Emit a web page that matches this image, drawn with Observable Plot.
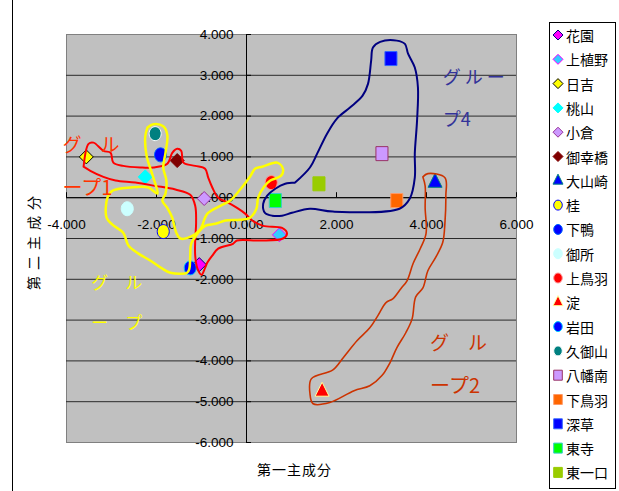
<!DOCTYPE html>
<html><head><meta charset="utf-8">
<script src="https://cdn.jsdelivr.net/npm/d3@7"></script>
<script src="https://cdn.jsdelivr.net/npm/@observablehq/plot@0.6"></script>
<style>
body{margin:0;background:#fff;}
#wrap{position:relative;width:619px;height:491px;overflow:hidden;background:#fff;}
#border{position:absolute;left:12px;top:0;width:0;height:491px;border-left:1px solid #000;}
#chart{position:absolute;left:0;top:0;}
#legend{position:absolute;left:549px;top:22px;}
.title{position:absolute;font-family:"Noto Sans CJK JP";font-size:14px;color:#000;white-space:nowrap;line-height:1;}
</style></head><body>
<div id="wrap">
  <div id="border"></div>
  <div id="chart"></div>
  <div class="title" id="xtitle" style="left:257px;top:462px;letter-spacing:1px;">第一主成分</div>
  <div class="title" id="ytitle" style="left:33px;top:240px;transform:translate(-50%,-50%) rotate(-90deg);letter-spacing:6px;">第二主成分</div>
  <svg id="legend" width="67" height="467"></svg>
</div>
<script>
// ---- data ----
const stations = ["花園","上植野","日吉","桃山","小倉","御幸橋","大山崎","桂","下鴨","御所","上鳥羽","淀","岩田","久御山","八幡南","下鳥羽","深草","東寺","東一口"];
const pc1 = [-1.05, 0.73, -3.56, -2.25, -0.94, -1.54, 4.19, -1.85, -1.91, -2.65, 0.55, 1.68, -1.25, -2.03, 3.01, 3.34, 3.21, 0.64, 1.61];
const pc2 = [-1.64, -0.91, 1.00, 0.51, -0.02, 0.91, 0.37, -0.83, 1.05, -0.27, 0.37, -4.75, -1.72, 1.57, 1.08, -0.07, 3.41, -0.07, 0.34];
const shapes = ["diamond","diamond","diamond","diamond","diamond","diamond","triangle","circle","circle","circle","circle","triangle","circle","circle","square","square","square","square","square"];
const fills = ["#FF00FF","#33CCFF","#FFFF00","#00FFFF","#CC99FF","#800000","#0000FF","#FFFF00","#0000FF","#CCFFFF","#FF0000","#FF0000","#0000FF","#008080","#CC99FF","#FF6600","#0000FF","#00FF00","#99CC00"];
const strokes = ["#000080","#FF00FF","#000000","#00FFFF","#993399","#800000","#008080","#0000FF","#0066FF","#CCFFFF","#FF9999","#FFFF99","#00CCFF","#FFFFFF","#993366","#FF9966","#3366FF","#33CCCC","#99CC00"];

const xTicks = [-4, -2, 0, 2, 4, 6];
const xTickLabels = ["-4.000","-2.000","0.000","2.000","4.000","6.000"];
const yTicks = [4, 3, 2, 1, 0, -1, -2, -3, -4, -5, -6];
const yTickLabels = ["4.000","3.000","2.000","1.000","0.000","-1.000","-2.000","-3.000","-4.000","-5.000","-6.000"];

// hand-drawn group outlines (PC1, PC2)
const group1Outline = [[-3.62,0.76],[-3.51,1.32],[-3.40,1.35],[-3.18,1.15],[-3.02,1.10],[-2.96,0.86],[-2.74,0.78],[-2.36,0.74],[-2.07,0.74],[-1.76,0.83],[-1.65,1.10],[-1.54,1.20],[-1.45,1.15],[-1.40,0.86],[-1.14,0.78],[-0.92,0.71],[-0.85,0.49],[-0.76,0.25],[-0.63,0.00],[-0.41,-0.12],[-0.21,-0.25],[-0.03,-0.39],[0.13,-0.56],[0.37,-0.69],[0.79,-0.74],[0.90,-0.88],[0.81,-1.00],[0.30,-1.05],[-0.21,-1.05],[-0.30,-1.13],[-0.63,-1.25],[-0.76,-1.42],[-0.87,-1.59],[-0.92,-1.72],[-1.00,-1.89],[-1.09,-1.74],[-1.14,-1.42],[-1.14,-1.05],[-1.12,-0.61],[-1.14,-0.20],[-1.25,0.07],[-1.58,0.20],[-2.03,0.29],[-2.47,0.37],[-2.91,0.42],[-3.18,0.51],[-3.47,0.66],[-3.62,0.76]];
const group2Outline = [[3.92,0.51],[4.03,0.59],[4.41,0.49],[4.43,0.05],[4.41,-0.61],[4.36,-1.10],[4.21,-1.45],[4.03,-1.79],[3.92,-2.21],[3.76,-2.43],[3.68,-2.97],[3.54,-3.31],[3.34,-3.68],[3.19,-4.04],[3.01,-4.36],[2.74,-4.61],[2.39,-4.73],[1.85,-5.02],[1.48,-5.05],[1.41,-4.80],[1.44,-4.44],[1.92,-4.22],[2.15,-3.92],[2.46,-3.50],[2.74,-3.19],[2.92,-2.89],[3.10,-2.57],[3.25,-2.48],[3.43,-2.23],[3.57,-2.03],[3.70,-1.62],[3.86,-1.25],[3.99,-0.88],[3.97,-0.25],[3.97,0.29],[3.92,0.51]];
const group3Outline = [[-2.20,1.72],[-2.07,1.80],[-1.85,1.75],[-1.76,1.54],[-1.80,1.10],[-1.85,0.74],[-1.78,0.42],[-1.80,0.10],[-1.87,-0.07],[-1.76,-0.25],[-1.65,-0.49],[-1.56,-0.86],[-1.47,-1.00],[-1.25,-0.96],[-1.03,-0.78],[-0.87,-0.39],[-0.58,-0.20],[-0.36,-0.07],[-0.14,0.20],[0.08,0.52],[0.19,0.71],[0.35,0.76],[0.68,0.86],[0.81,0.71],[0.77,0.54],[0.53,0.42],[0.39,0.27],[0.26,0.00],[0.22,-0.27],[0.08,-0.49],[-0.14,-0.54],[-0.47,-0.56],[-0.69,-0.64],[-0.92,-0.69],[-1.09,-0.88],[-1.23,-1.13],[-1.25,-1.42],[-1.27,-1.74],[-1.32,-1.84],[-1.69,-1.84],[-1.87,-1.74],[-2.14,-1.54],[-2.40,-1.37],[-2.62,-1.18],[-2.74,-0.86],[-2.98,-0.66],[-3.11,-0.49],[-3.09,0.00],[-2.98,0.17],[-2.58,0.25],[-2.18,0.25],[-1.98,0.10],[-2.07,0.49],[-2.22,1.03],[-2.25,1.50],[-2.20,1.72]];
const group4Outline = [[1.08,0.37],[1.41,0.74],[1.57,1.08],[1.79,1.57],[2.01,1.94],[2.30,2.21],[2.58,2.50],[2.70,2.79],[2.77,3.36],[2.81,3.68],[2.97,3.82],[3.34,3.85],[3.52,3.77],[3.59,3.53],[3.74,3.19],[3.81,2.70],[3.79,1.89],[3.74,1.08],[3.74,0.49],[3.63,-0.02],[3.40,-0.27],[1.92,-0.34],[1.41,-0.27],[1.01,-0.37],[0.79,-0.44],[0.57,-0.44],[0.41,-0.37],[0.37,-0.15],[0.46,0.05],[0.64,0.22],[0.86,0.34],[1.08,0.37]];
const outlineColors = ["#FF0000","#CC3300","#FFFF00","#000080"];
const outlineWidths = [2, 1.6, 2.5, 2];

const groupLabelText = ["グ　ル","ープ1","グ　ル","ー　プ","グ ル ー","プ4","グ　ル","ープ2"];
const groupLabelX = [-4.09,-4.09,-3.45,-3.45,4.36,4.36,4.08,4.08];
const groupLabelY = [1.27,0.22,-2.11,-3.09,2.94,1.89,-3.58,-4.63];
const groupLabelColor = ["#FF3300","#FF3300","#FFFF00","#FFFF00","#333399","#333399","#CC3300","#CC3300"];
const groupLabelSize = [19,20,17,17,18,18,19,20];

// ---- symbols ----
const sym = {
  diamond: {draw(c, size){const s=Math.sqrt(size/Math.PI); c.moveTo(0,-s); c.lineTo(s,0); c.lineTo(0,s); c.lineTo(-s,0); c.closePath();}},
  square: {draw(c, size){const s=Math.sqrt(size/Math.PI); c.rect(-s*0.86,-s,s*1.72,s*2);}},
  circle: {draw(c, size){const s=Math.sqrt(size/Math.PI); const rx=s*0.86, ry=s, k=0.5523;
    c.moveTo(rx,0); c.bezierCurveTo(rx,ry*k,rx*k,ry,0,ry); c.bezierCurveTo(-rx*k,ry,-rx,ry*k,-rx,0);
    c.bezierCurveTo(-rx,-ry*k,-rx*k,-ry,0,-ry); c.bezierCurveTo(rx*k,-ry,rx,-ry*k,rx,0); c.closePath();}},
  triangle: {draw(c, size){const s=Math.sqrt(size/Math.PI); c.moveTo(0,-s*1.33); c.lineTo(s,s*0.67); c.lineTo(-s,s*0.67); c.closePath();}}
};

const idx = stations.map((_, i) => i);
const outlines = [group1Outline, group2Outline, group3Outline, group4Outline];
const num = "Liberation Sans, Arial, sans-serif";
const jp = "Noto Sans CJK JP, sans-serif";

const marks = [
  Plot.frame({fill: "#C0C0C0", stroke: "#808080"}),
  Plot.ruleY(yTicks.filter(v => v !== 4 && v !== -6), {y: d => d, stroke: "#2a2a2a", strokeWidth: 1}),
  Plot.ruleX([0], {x: d => d, stroke: "#000", strokeWidth: 1}),
  Plot.ruleY([0], {y: d => d, stroke: "#000", strokeWidth: 1}),
  Plot.ruleX(xTicks, {x: d => d, y1: 0, y2: 0, insetBottom: 5, stroke: "#000"}),
  Plot.ruleY(yTicks, {y: d => d, x1: 0, x2: 0, insetRight: -5, stroke: "#000"}),
  Plot.text(xTicks, {x: d => d, y: 0, dy: 27, text: (d, i) => xTickLabels[i], fontSize: 13.5, fontFamily: num, fill: "#000"}),
  Plot.text(yTicks, {x: 0, y: d => d, dx: -13, textAnchor: "end", text: (d, i) => yTickLabels[i], fontSize: 13.5, fontFamily: num, fill: "#000"}),
  ...idx.map(i => Plot.dot([i], {x: d => pc1[d], y: d => pc2[d], symbol: sym[shapes[i]], r: 7, fill: fills[i], stroke: strokes[i], strokeWidth: 1})),
  ...outlines.map((o, k) => Plot.line(o, {x: d => d[0], y: d => d[1], stroke: outlineColors[k], strokeWidth: outlineWidths[k], strokeLinejoin: "round", strokeLinecap: "round", curve: "catmull-rom"})),
  ...groupLabelText.map((t, k) => Plot.text([k], {x: d => groupLabelX[d], y: d => groupLabelY[d], text: d => groupLabelText[d], textAnchor: "start", fill: groupLabelColor[k], fontSize: groupLabelSize[k], fontFamily: jp}))
];

const chart = Plot.plot({
  width: 619, height: 491,
  marginLeft: 66, marginRight: 103, marginTop: 34, marginBottom: 49,
  x: {domain: [-4, 6], axis: null},
  y: {domain: [-6, 4], axis: null},
  style: {background: "transparent", overflow: "visible"},
  marks
});
document.getElementById("chart").appendChild(chart);

// ---- legend ----
const lg = d3.select("#legend");
lg.append("rect").attr("x", 0.5).attr("y", 0.5).attr("width", 66).attr("height", 466).attr("fill", "#fff").attr("stroke", "#000");
idx.forEach(i => {
  const cy = 13 + 24.3 * i;
  lg.append("path").attr("d", d3.symbol(sym[shapes[i]], Math.PI * 25)()).attr("transform", `translate(9,${cy})`)
    .attr("fill", fills[i]).attr("stroke", strokes[i]).attr("stroke-width", 1);
  lg.append("text").attr("x", 17).attr("y", cy).attr("dominant-baseline", "central")
    .attr("font-family", jp).attr("font-size", 14).attr("fill", "#000").text(stations[i]);
});
</script>
</body></html>
